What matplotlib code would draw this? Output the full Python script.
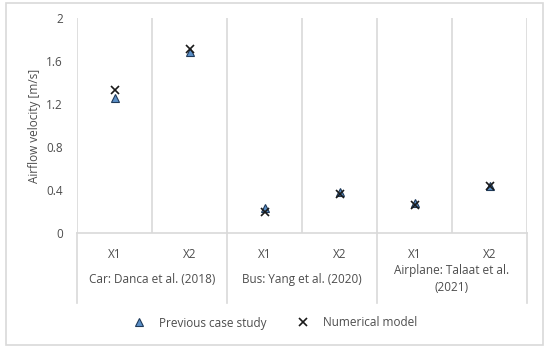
import matplotlib.pyplot as plt
from matplotlib.patches import Rectangle

plt.rcParams['font.family'] = ['Open Sans', 'DejaVu Sans']

groups = ["Car: Danca et al. (2018)", "Bus: Yang et al. (2020)", "Airplane: Talaat et al.\n(2021)"]
points = ["X1", "X2"]
previous = [1.26, 1.68, 0.23, 0.38, 0.28, 0.44]
numerical = [1.33, 1.71, 0.20, 0.36, 0.26, 0.44]
yticks = [0, 0.4, 0.8, 1.2, 1.6, 2]

grid_c = '#d9d9d9'
text_c = '#4d4d4d'

fig = plt.figure(figsize=(5.5, 3.52), dpi=100)
ax = fig.add_axes([77/550, 1 - 233/352, 450/550, 215/352])

x = list(range(len(previous)))
ax.plot(x, previous, linestyle='none', marker='^', markersize=5.5,
        markerfacecolor='#5b8fc7', markeredgecolor='#1f3a5a', markeredgewidth=0.8,
        label='Previous case study', zorder=3)
ax.plot(x, numerical, linestyle='none', marker='x', markersize=5.5,
        color='#1a1a1a', markeredgewidth=1.2, label='Numerical model', zorder=4)

ax.set_xlim(-0.5, len(x) - 0.5)
ax.set_ylim(0, 2)
ax.set_yticks(yticks)
ax.set_yticklabels(["0", "0.4", "0.8", "1.2", "1.6", "2"])
ax.tick_params(axis='y', length=0, pad=10, labelsize=8.5, labelcolor=text_c)
ax.set_xticks([])
for s in ['top', 'right', 'left']:
    ax.spines[s].set_visible(False)
ax.spines['bottom'].set_color(grid_c)
ax.spines['bottom'].set_linewidth(1.2)

# vertical gridlines between categories
for i in range(len(x) + 1):
    ax.axvline(i - 0.5, color=grid_c, lw=1.2, zorder=0)

# category labels
for i in x:
    ax.text(i, -0.2, points[i % 2], ha='center', va='center',
            fontsize=8.5, color=text_c, clip_on=False)
for g, name in enumerate(groups):
    ax.text(2 * g + 0.5, -0.43, name, ha='center', va='center',
            fontsize=8.5, color=text_c, linespacing=1.35, clip_on=False)
# group separators extending below the axis
for g in range(len(groups) + 1):
    ax.plot([2 * g - 0.5, 2 * g - 0.5], [0, -0.65], color=grid_c, lw=1.2,
            clip_on=False, zorder=0)

ax.set_ylabel("Airflow velocity [m/s]", fontsize=8.5, color=text_c, labelpad=4)

fig.legend(loc='center', bbox_to_anchor=(0.5, 1 - 323/352), ncol=2, frameon=False,
           fontsize=8.5, labelcolor=text_c, columnspacing=2.6, handlelength=1.0,
           handletextpad=1.2)

fig.patches.append(Rectangle((6/550, 1 - 345/352), 537/550, 342/352, transform=fig.transFigure,
                             fill=False, edgecolor=grid_c, lw=1.2))

fig.savefig('out.png', dpi=100)
